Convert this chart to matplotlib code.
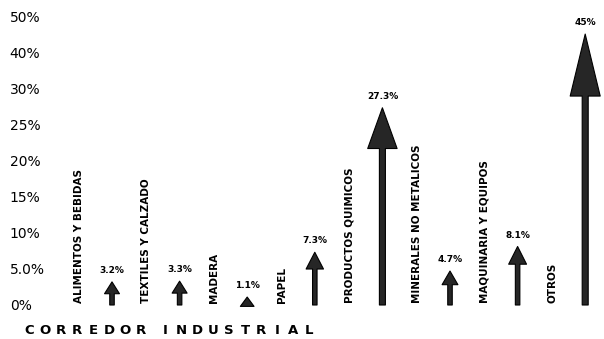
import numpy as np
import matplotlib.pyplot as plt

# Data
categories = ["ALIMENTOS Y BEBIDAS", "TEXTILES Y CALZADO", "MADERA", "PAPEL",
              "PRODUCTOS QUIMICOS", "MINERALES NO METALICOS",
              "MAQUINARIA Y EQUIPOS", "OTROS"]
values = [3.2, 3.3, 1.1, 7.3, 27.3, 4.7, 8.1, 45]
value_labels = ["3.2%", "3.3%", "1.1%", "7.3%", "27.3%", "4.7%", "8.1%", "45%"]
ticks = [0, 5, 10, 15, 20, 25, 30, 40, 50]
tick_labels = ["0%", "5.0%", "10%", "15%", "20%", "25%", "30%", "40%", "50%"]
title = "CORREDOR INDUSTRIAL"

# the original axis puts its tick labels at equal spacing
steps = np.arange(len(ticks))
fwd = lambda y: np.interp(y, ticks, steps)
inv = lambda s: np.interp(s, steps, ticks)

fig = plt.figure(figsize=(6.04, 3.39), dpi=100)
ax = fig.add_axes([44.4 / 604, 34 / 339, 557.7 / 604, 289 / 339])
ax.set_yscale("function", functions=(fwd, inv))
ax.set_xlim(-1.0, 7.25)
ax.set_ylim(0, 50)

for i, (cat, v, lab) in enumerate(zip(categories, values, value_labels)):
    # head grows with the value (sizes in points)
    hl = (8 + 1.2 * v) * 0.72
    hw = min(13 + 0.6 * v, 30) * 0.72
    tw = (4.5 if v < 20 else 6) * 0.72
    style = f"simple,head_length={hl},head_width={hw},tail_width={tw}"
    ax.annotate("", xy=(i, v), xytext=(i, 0),
                arrowprops=dict(arrowstyle=style, mutation_scale=1,
                                shrinkA=0, shrinkB=0, facecolor="#262626",
                                edgecolor="black", linewidth=0.8))
    ax.annotate(lab, (i, v), xytext=(0, 5), textcoords="offset points",
                ha="center", va="bottom", fontsize=6.5, fontweight="bold")
    ax.text(i - 0.49, 0.3, cat, rotation=90, ha="center", va="bottom",
            fontsize=7.5, fontweight="bold")

ax.set_yticks(ticks)
ax.set_yticklabels(tick_labels, ha="left", fontsize=10)
ax.yaxis.set_minor_locator(plt.NullLocator())
ax.tick_params(axis="y", length=0, pad=25)
ax.set_xticks([])
for s in ax.spines.values():
    s.set_visible(False)

# wide letter-spaced caption under the chart
x = 22 + 7
for ch in title:
    if ch == " ":
        x += 8
        continue
    fig.text(x / 604, 1 - 331 / 339, ch, ha="center", va="center",
             fontsize=9.5, fontweight="bold")
    x += 16

fig.savefig("out.png", dpi=100)
